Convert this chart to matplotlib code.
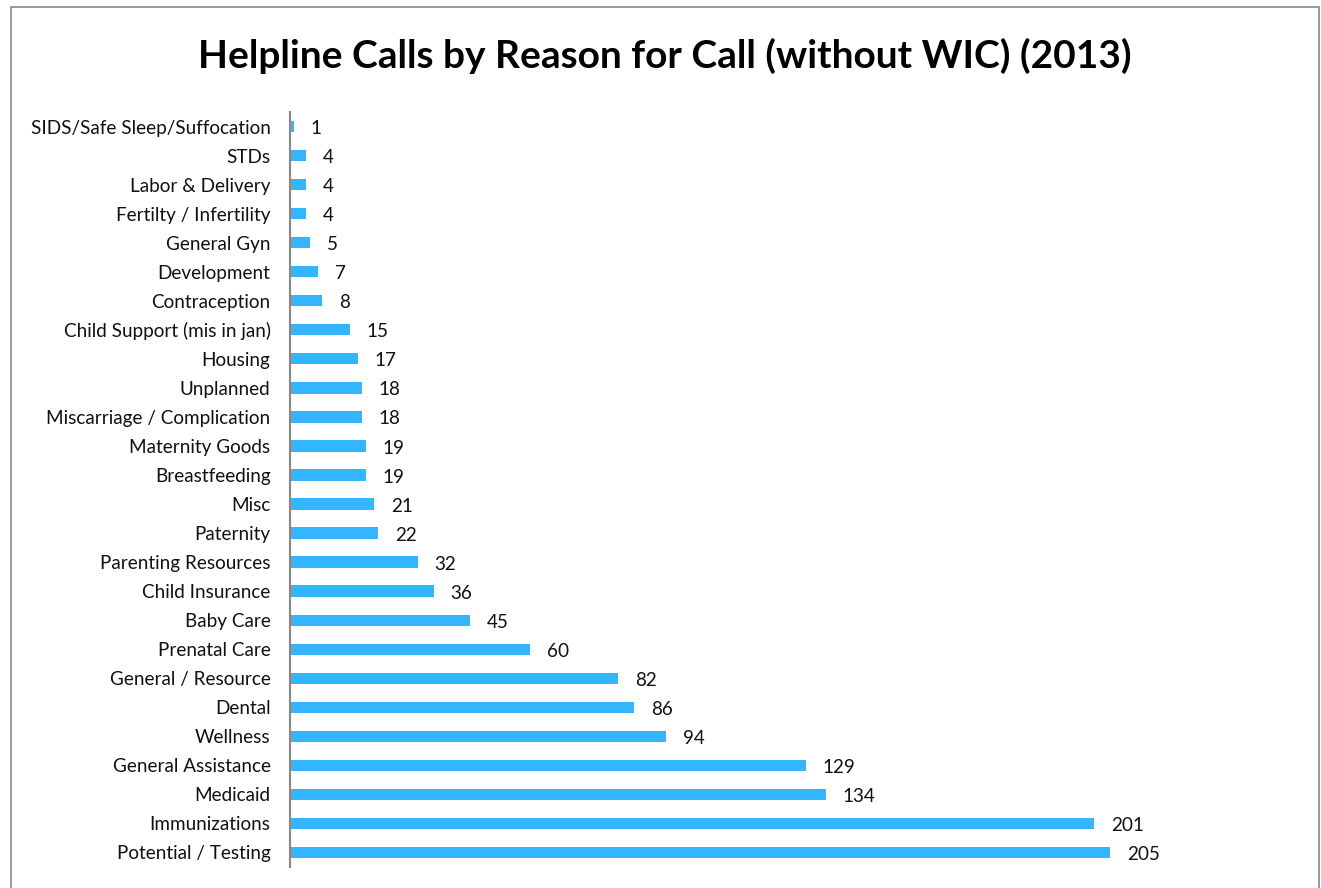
import matplotlib
matplotlib.use("Agg")
import matplotlib.pyplot as plt
from matplotlib.patches import Rectangle

categories = [
    "Potential / Testing", "Immunizations", "Medicaid", "General Assistance",
    "Wellness", "Dental", "General / Resource", "Prenatal Care", "Baby Care",
    "Child Insurance", "Parenting Resources", "Paternity", "Misc",
    "Breastfeeding", "Maternity Goods", "Miscarriage / Complication",
    "Unplanned", "Housing", "Child Support (mis in jan)", "Contraception",
    "Development", "General Gyn", "Fertilty / Infertility", "Labor & Delivery",
    "STDs", "SIDS/Safe Sleep/Suffocation",
]
values = [205, 201, 134, 129, 94, 86, 82, 60, 45, 36, 32, 22, 21, 19, 19, 18,
          18, 17, 15, 8, 7, 5, 4, 4, 4, 1]
title = "Helpline Calls by Reason for Call (without WIC) (2013)"

plt.rcParams['font.family'] = ['Lato', 'DejaVu Sans']

W, H = 1321, 888
fig = plt.figure(figsize=(W / 100, H / 100), dpi=100)
ax = fig.add_axes([290 / W, 1 - 867 / H, 1000 / W, (867 - 112) / H])

pos = list(range(len(categories)))
ax.barh(pos, values, height=0.39, color="#33b5ff")
ax.set_ylim(-0.5, len(categories) - 0.5)
ax.set_xlim(0, 250)
ax.set_yticks(pos)
ax.set_yticklabels(categories, fontsize=13.6, color="#111111")
ax.tick_params(axis="y", length=0, pad=14)
ax.set_xticks([])
for s in ["top", "right", "bottom"]:
    ax.spines[s].set_visible(False)
ax.spines["left"].set_color("#888888")
ax.spines["left"].set_linewidth(1.5)

for p, v in zip(pos, values):
    ax.annotate(str(v), (v, p), xytext=(12, -1.5), textcoords="offset points",
                va="center", ha="left", fontsize=13.6, color="#111111")

fig.text(665 / W, 1 - 56 / H, title, ha="center", va="center",
         fontsize=28, fontweight="bold", color="#000000")

fig.patches.append(Rectangle((11 / W, -0.05), (1319 - 11) / W, 1.05 - 7 / H,
                             transform=fig.transFigure, fill=False,
                             edgecolor="#888888", linewidth=1.2))

fig.savefig("out.png", dpi=100)
